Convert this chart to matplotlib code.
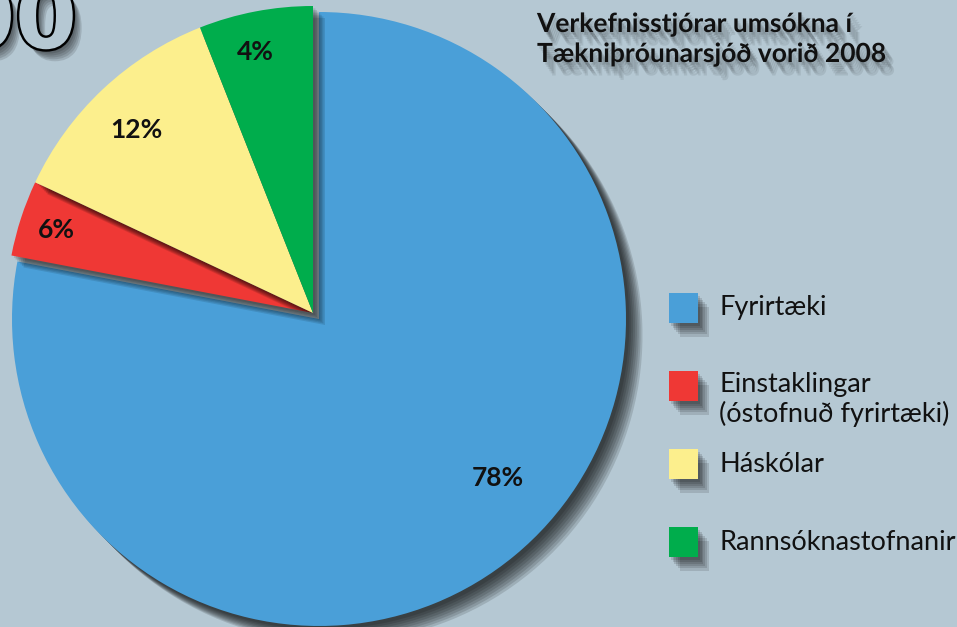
import matplotlib
matplotlib.use("Agg")
import numpy as np
import matplotlib.pyplot as plt
import matplotlib.patheffects as pe
from matplotlib.patches import Rectangle

# --- data -------------------------------------------------------------
categories = ["Fyrirtæki", "Einstaklingar\n(óstofnuð fyrirtæki)", "Háskólar", "Rannsóknastofnanir"]
shares = [78, 4, 12, 6]                      # wedge sizes as drawn
pct_labels = ["78%", "6%", "12%", "4%"]      # labels as printed on the chart
colors = ["#4a9fd8", "#ef3835", "#fcef8d", "#00ad4c"]
title = "Verkefnisstjórar umsókna í\nTækniþróunarsjóð vorið 2008"

# --- layout (pixels, y measured from the top) --------------------------
W, H = 957, 627
BG = "#b5c8d3"
center = (319, 319)
radius = 307
small_shift = (-6, -6)                       # pull-out of the three small slices
label_angle = [-41.6, 162, 134, 102.5]       # degrees, screen-style
label_rfrac = [0.78, 0.88, 0.83, 0.87]


def py(y):
    return H - y


def soft_shadow(dx, dy, n=7, alpha=0.09, color="black"):
    """stack of offset shadows, cheap stand-in for a blurred drop shadow"""
    fx = []
    for k in np.linspace(0.3, 1.5, n):
        fx.append(pe.SimplePatchShadow(offset=(dx * k * 0.72, -dy * k * 0.72),
                                       shadow_rgbFace=color, alpha=alpha))
    fx.append(pe.Normal())
    return fx


plt.rcParams["font.family"] = ["Lato", "DejaVu Sans"]

fig = plt.figure(figsize=(W / 100, H / 100), dpi=100)
fig.patch.set_facecolor(BG)
ax = fig.add_axes([0, 0, 1, 1])
ax.set_facecolor(BG)

wedges, _ = ax.pie(shares, colors=colors, startangle=90, counterclock=False,
                   radius=radius, center=(center[0], py(center[1])),
                   wedgeprops=dict(linewidth=0))
ax.set_xlim(0, W)
ax.set_ylim(0, H)
ax.set_aspect("equal")
ax.axis("off")

wedges[0].set_path_effects(soft_shadow(11, 11, n=8, alpha=0.13))
for w in wedges[1:]:
    w.set_center((center[0] + small_shift[0], py(center[1] + small_shift[1])))
    w.set_path_effects(soft_shadow(8, 8, alpha=0.11))

# percentage labels
for i, txt in enumerate(pct_labels):
    cx, cy = wedges[i].center
    a = np.deg2rad(label_angle[i])
    r = label_rfrac[i] * radius
    ax.text(cx + r * np.cos(a), cy + r * np.sin(a), txt, fontsize=19,
            fontweight="bold", ha="center", va="center", color="#111111")

# title
ax.text(537, py(12), title, fontsize=19, fontweight="bold", ha="left", va="top",
        linespacing=1.3, color="#111111",
        path_effects=soft_shadow(6, 9, n=6, alpha=0.08))

# big cropped heading in the corner
ax.text(77, py(48), "00", fontsize=64, fontweight="heavy", ha="right",
        va="baseline", color=BG, family="DejaVu Sans",
        path_effects=soft_shadow(6, 8, n=6, alpha=0.12)[:-1] +
        [pe.Stroke(linewidth=3.5, foreground="black"), pe.Normal()])

# legend, drawn by hand so the two-line label sits like the original
leg_top = [293, 371, 449, 527]
for i, name in enumerate(categories):
    y0 = leg_top[i]
    sq = Rectangle((669, py(y0 + 30)), 29, 30, facecolor=colors[i], linewidth=0)
    sq.set_path_effects(soft_shadow(7, 9, n=6, alpha=0.12))
    ax.add_patch(sq)
    if "\n" in name:
        ax.text(719, py(y0 + 1), name, fontsize=19.5, ha="left", va="top",
                color="#111111", linespacing=1.2)
    else:
        ax.text(719, py(y0 + 15), name, fontsize=19.5, ha="left", va="center",
                color="#111111")

fig.savefig("out.png", dpi=100, facecolor=BG)
